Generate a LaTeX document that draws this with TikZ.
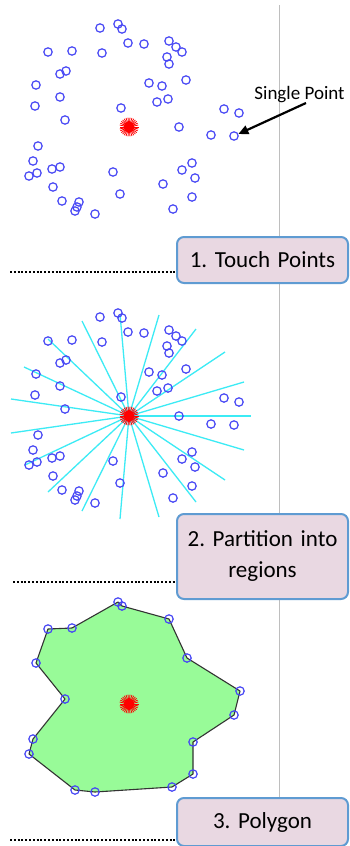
\documentclass[tikz,border=0pt]{standalone}
\usepackage{fontspec}
\setmainfont{Carlito}
\usetikzlibrary{arrows.meta}
\frenchspacing
\definecolor{ptblue}{RGB}{70,70,245}
\definecolor{raycyan}{RGB}{60,235,245}
\definecolor{polygreen}{RGB}{152,251,152}
\definecolor{boxfill}{RGB}{233,216,226}
\definecolor{boxedge}{RGB}{95,155,210}
\definecolor{vlinegray}{RGB}{190,190,190}
\tikzset{
 pt/.style={circle, draw=ptblue, line width=1.2pt, minimum size=8.4pt, inner sep=0pt},
 ray/.style={draw=raycyan, line width=1.3pt},
 poly/.style={fill=polygreen, draw=black!80, line width=1.1pt, line join=round},
 labelbox/.style={draw=boxedge, fill=boxfill, line width=2pt, rounded corners=7pt,
   minimum width=171pt, text width=165pt, align=center, inner sep=0pt,
   font=\fontsize{23}{31}\selectfont\frenchspacing},
 dotline/.style={line width=2.2pt, dash pattern=on 2pt off 1.8pt},
 starray/.style={draw=red, line width=0.8pt},
 bigarrow/.style={line width=2.2pt, -{Triangle[length=10pt,width=9pt]}},
}
\newcommand\redstar[1]{%
  \fill[red] (#1) circle (5.5pt);
  \foreach \a in {0,12,...,348} \draw[starray] (#1) -- ++(\a:9.5pt);
}
\def\ptlist{1/100/28, 2/118/24, 3/122/29, 4/48/52, 5/72/51, 6/102/53, 7/128/43, 8/144/44,
 9/169/41, 10/176/47, 11/182/52, 12/167/57, 13/169/64, 14/60/74, 15/66/71, 16/36/85,
 17/60/97, 18/35/106, 19/65/120, 20/149/83, 21/162/86, 22/157/102, 23/168/99, 24/186/80,
 25/121/108, 26/179/127, 27/224/109, 28/239/113, 29/211/135, 30/234/136, 31/38/146,
 32/33/161, 33/29/176, 34/37/173, 35/52/169, 36/60/167, 37/113/172, 38/53/187,
 39/163/184, 40/182/170, 41/192/163, 42/195/178, 43/192/197, 44/62/201, 45/79/202,
 46/77/207, 47/75/211, 48/95/214, 49/120/194, 50/173/209}
\def\raylist{1/251/416, 2/244/382, 3/225/352, 4/196/329, 5/159/315, 6/120/314, 7/82/321,
 8/48/339, 9/24/367, 10/11/399, 11/11/433, 12/25/465, 13/48/492, 14/82/511, 15/120/519,
 16/159/517, 17/196/502, 18/225/480, 19/244/450}
\def\polylist{1/48/629, 2/72/628, 3/118/602, 4/122/606, 5/169/619, 6/187/658, 7/240/691,
 8/234/715, 9/193/742, 10/193/774, 11/172/787, 12/95/792, 13/75/790, 14/29/754,
 15/33/739, 16/65/699, 17/36/663}
\begin{document}
\begin{tikzpicture}[x=1pt, y=-1pt]
\useasboundingbox (0,0) rectangle (349,846);
\fill[white] (0,0) rectangle (349,846);
% vertical guide line
\coordinate (vtop) at (279.5,5);
\coordinate (vbot) at (279.5,846);
\draw[vlinegray, line width=1pt] (vtop) -- (vbot);

% ---------- panel 1 ----------
\coordinate (s1) at (129,127);
\foreach \i/\x/\y in \ptlist \node[pt] (a\i) at (\x,\y) {};
\redstar{s1}
\node[anchor=base, font=\fontsize{19}{22}\selectfont] (single) at (299.5,99) {Single Point};
\coordinate (tail) at (306,103);
\draw[bigarrow] (tail) -- (a30);

% ---------- panel 2 ----------
\coordinate (s2) at (129,416);
\foreach \i/\x/\y in \raylist {
  \coordinate (e\i) at (\x,\y);
  \draw[ray] (s2) -- (e\i);
}
\foreach \i/\x/\y in \ptlist \node[pt] (b\i) at (\x,\y+289) {};
\redstar{s2}

% ---------- panel 3 ----------
\coordinate (s3) at (129,704);
\foreach \i/\x/\y in \polylist \coordinate (v\i) at (\x,\y);
\draw[poly] (v1) -- (v2) -- (v3) -- (v4) -- (v5) -- (v6) -- (v7) -- (v8) -- (v9)
  -- (v10) -- (v11) -- (v12) -- (v13) -- (v14) -- (v15) -- (v16) -- (v17) -- cycle;
\foreach \i in {1,...,17} \node[pt] (c\i) at (v\i) {};
\redstar{s3}

% ---------- label boxes ----------
\node[labelbox, minimum height=46pt] (box1) at (262.5,260) {1. Touch Points};
\node[labelbox, minimum height=85pt] (box2) at (262.5,556.5) {2. Partition into\\regions};
\node[labelbox, minimum height=48pt] (box3) at (262.5,822) {3. Polygon};

\coordinate (d1) at (10,272);
\coordinate (d2) at (13,582);
\coordinate (d3) at (10,840);
\draw[dotline] (d1) -- (d1 -| box1.west);
\draw[dotline] (d2) -- (d2 -| box2.west);
\draw[dotline] (d3) -- (d3 -| box3.west);
\end{tikzpicture}
\end{document}
